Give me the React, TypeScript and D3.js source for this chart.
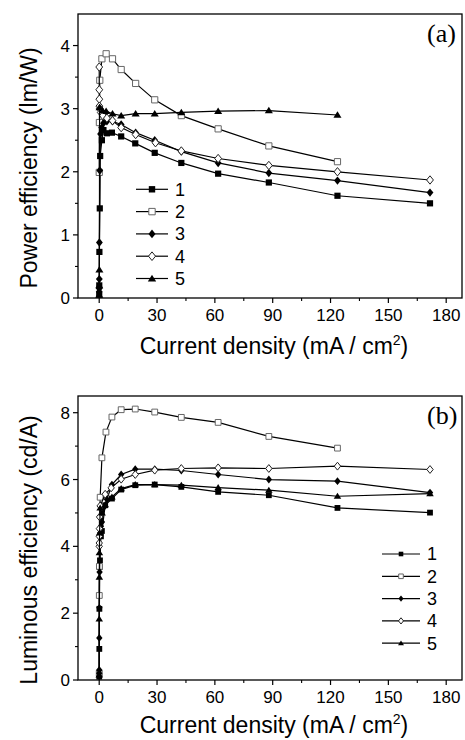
import * as d3 from 'd3';

// current density (mA/cm2) and efficiencies
const jA1 = [0.01, 0.03, 0.1, 0.3, 0.5, 1.4, 2.2, 4.0, 6.6, 11.4, 18.7, 28.8, 42.6, 61.7, 88, 123.6, 171.6];
const peA1 = [0.05, 0.2, 0.73, 1.42, 2.25, 2.5, 2.66, 2.61, 2.62, 2.56, 2.45, 2.3, 2.14, 1.97, 1.83, 1.62, 1.5];
const jA2 = [0.02, 0.1, 0.3, 1.4, 3.6, 6.9, 11.4, 18.9, 28.8, 42.6, 61.7, 88, 123.6];
const peA2 = [1.99, 2.78, 3.45, 3.79, 3.87, 3.79, 3.62, 3.4, 3.14, 2.89, 2.68, 2.41, 2.16];
const jA3 = [0.01, 0.03, 0.06, 0.1, 0.3, 0.7, 1.3, 2.2, 4.0, 6.9, 11.4, 18.9, 28.8, 42.6, 61.7, 88, 123.6, 171.6];
const peA3 = [0.1, 0.15, 0.3, 0.88, 2.02, 2.6, 2.7, 2.77, 2.8, 2.8, 2.75, 2.62, 2.5, 2.32, 2.14, 1.98, 1.86, 1.67];
const jA4 = [0.01, 0.03, 0.06, 0.1, 0.3, 0.8, 1.9, 4.0, 6.9, 11.4, 18.9, 29.2, 42.6, 61.7, 88, 123.6, 171.6];
const peA4 = [3.66, 3.3, 3.15, 3.04, 3.0, 2.94, 2.89, 2.85, 2.81, 2.7, 2.59, 2.46, 2.33, 2.21, 2.1, 2.0, 1.87];
const jA5 = [0.01, 0.03, 0.1, 0.2, 1.7, 3.6, 6.9, 11.4, 18.9, 28.8, 42.6, 61.7, 88, 123.6];
const peA5 = [0.05, 0.2, 0.45, 3.02, 2.97, 2.96, 2.92, 2.89, 2.92, 2.92, 2.94, 2.96, 2.97, 2.9];

const jB1 = [0.01, 0.03, 0.06, 0.1, 0.2, 0.4, 0.9, 1.4, 3.1, 6.6, 11.4, 18.7, 28.8, 42.6, 61.7, 88, 123.6, 171.6];
const leB1 = [0.1, 0.2, 0.93, 2.13, 3.38, 3.58, 4.3, 4.46, 5.23, 5.43, 5.7, 5.83, 5.85, 5.78, 5.63, 5.53, 5.15, 5.01];
const jB2 = [0.01, 0.05, 0.1, 0.5, 1.4, 3.5, 6.6, 11.4, 18.7, 28.8, 42.6, 61.7, 88, 123.6];
const leB2 = [0.2, 2.53, 3.4, 5.47, 6.65, 7.42, 7.87, 8.09, 8.11, 8.02, 7.86, 7.71, 7.29, 6.94];
const jB3 = [0.01, 0.02, 0.04, 0.06, 0.1, 0.2, 0.5, 0.9, 1.4, 2.6, 4.0, 6.6, 11.4, 18.7, 28.8, 42.6, 61.7, 88, 123.6, 171.6];
const leB3 = [0.1, 0.2, 0.3, 1.26, 2.16, 3.23, 4.4, 4.6, 4.73, 5.18, 5.41, 5.85, 6.15, 6.31, 6.31, 6.27, 6.15, 6.0, 5.95, 5.61];
const jB4 = [0.01, 0.02, 0.05, 0.1, 0.2, 0.5, 3.1, 6.2, 11.4, 18.7, 28.8, 42.6, 61.7, 88, 123.6, 171.6];
const leB4 = [4.0, 4.1, 4.3, 4.53, 4.88, 5.21, 5.56, 5.75, 6.01, 6.15, 6.28, 6.33, 6.35, 6.33, 6.4, 6.3];
const jB5 = [0.01, 0.03, 0.06, 0.1, 0.2, 0.5, 1.5, 3.1, 6.6, 11.4, 18.7, 28.8, 42.6, 61.7, 88, 123.6, 171.6];
const leB5 = [0.15, 1.83, 3.08, 3.81, 4.4, 5.15, 5.0, 5.25, 5.48, 5.73, 5.85, 5.85, 5.83, 5.76, 5.68, 5.5, 5.58];

const seriesNames = ['1', '2', '3', '4', '5'];
const markerKinds = ['square', 'squareOpen', 'diamond', 'diamondOpen', 'triangle'];

const xTicks = [0, 30, 60, 90, 120, 150, 180];
const xMinor = [15, 45, 75, 105, 135, 165];
const peTicks = [0, 1, 2, 3, 4];
const peMinor = [0.5, 1.5, 2.5, 3.5];
const leTicks = [0, 2, 4, 6, 8];
const leMinor = [1, 3, 5, 7];

const FONT = 'Liberation Sans, Arial, sans-serif';
const W = 465;
const H = 740;
const LEFT = 78;
const RIGHT = 462;

const x = d3.scaleLinear().domain([-11, 188.2]).range([LEFT, RIGHT]);

const markerPath = (kind: string, s: number) => {
    if (kind.startsWith('square')) return `M${-s},${-s}h${2 * s}v${2 * s}h${-2 * s}Z`;
    if (kind.startsWith('diamond')) {
        const w = s * 1.1;
        const h = s * 1.35;
        return `M0,${-h}L${w},0L0,${h}L${-w},0Z`;
    }
    const w = s * 1.3;
    return `M0,${-s * 1.2}L${w},${s * 0.9}L${-w},${s * 0.9}Z`;
};

const markerStyle = (kind: string) => {
    if (kind === 'squareOpen') return { fill: '#fff', stroke: '#666', strokeWidth: 1 };
    if (kind === 'diamondOpen') return { fill: '#fff', stroke: '#222', strokeWidth: 1 };
    return { fill: '#000', stroke: 'none', strokeWidth: 0 };
};

const Marker = ({ kind, cx, cy, s }: { kind: string; cx: number; cy: number; s: number }) => {
    const st = markerStyle(kind);
    return (
        <path
            d={markerPath(kind, s)}
            transform={`translate(${cx},${cy})`}
            fill={st.fill}
            stroke={st.stroke}
            strokeWidth={st.strokeWidth}
        />
    );
};

type PanelProps = {
    top: number;
    bottom: number;
    yMax: number;
    yTicks: number[];
    yMinor: number[];
    xs: number[][];
    ys: number[][];
    yTitle: string;
    label: string;
    titleGap: number;
    legendX: number;
    legendY: number;
    legendLine: number;
    legendSize: number;
    markSize: number;
};

const Panel = (p: PanelProps) => {
    const y = d3.scaleLinear().domain([0, p.yMax]).range([p.bottom, p.top]);
    const line = d3
        .line<[number, number]>()
        .x((d) => x(d[0]))
        .y((d) => y(d[1]));
    const midY = (p.top + p.bottom) / 2;

    return (
        <g>
            {/* frame */}
            <rect x={LEFT} y={p.top} width={RIGHT - LEFT} height={p.bottom - p.top} fill="none" stroke="#000" strokeWidth={1.3} />

            {/* x ticks */}
            {xTicks.map((t) => (
                <g key={'xt' + t}>
                    <line x1={x(t)} x2={x(t)} y1={p.bottom} y2={p.bottom + 5} stroke="#000" strokeWidth={1.2} />
                    <text x={x(t)} y={p.bottom + 23} textAnchor="middle" fontFamily={FONT} fontSize={17}>
                        {t}
                    </text>
                </g>
            ))}
            {xMinor.map((t) => (
                <line key={'xm' + t} x1={x(t)} x2={x(t)} y1={p.bottom} y2={p.bottom + 3} stroke="#000" strokeWidth={1.1} />
            ))}

            {/* y ticks */}
            {p.yTicks.map((t) => (
                <g key={'yt' + t}>
                    <line x1={LEFT - 5} x2={LEFT} y1={y(t)} y2={y(t)} stroke="#000" strokeWidth={1.2} />
                    <text x={70} y={y(t)} dy="0.36em" textAnchor="end" fontFamily={FONT} fontSize={17}>
                        {t}
                    </text>
                </g>
            ))}
            {p.yMinor.map((t) => (
                <line key={'ym' + t} x1={LEFT - 3} x2={LEFT} y1={y(t)} y2={y(t)} stroke="#000" strokeWidth={1.1} />
            ))}

            {/* titles */}
            <text x={274} y={p.bottom + p.titleGap} textAnchor="middle" fontFamily={FONT} fontSize={23}>
                Current density (mA / cm<tspan dy={-9} fontSize={14}>2</tspan>
                <tspan dy={9}>)</tspan>
            </text>
            <text
                transform={`translate(37,${midY + 12}) rotate(-90)`}
                textAnchor="middle"
                fontFamily={FONT}
                fontSize={23}
            >
                {p.yTitle}
            </text>
            <text x={427} y={p.top + 28} fontFamily="Liberation Serif, Times New Roman, serif" fontSize={26}>
                {p.label}
            </text>

            {/* series */}
            {p.xs.map((xv, i) => {
                const pts = xv.map((v, k) => [v, p.ys[i][k]] as [number, number]);
                return (
                    <g key={'s' + i}>
                        <path d={line(pts) ?? ''} fill="none" stroke="#000" strokeWidth={1.2} />
                        {pts.map((d, k) => (
                            <Marker key={k} kind={markerKinds[i]} cx={x(d[0])} cy={y(d[1])} s={p.markSize} />
                        ))}
                    </g>
                );
            })}

            {/* legend */}
            {seriesNames.map((n, i) => {
                const ly = p.legendY + i * 22.3;
                return (
                    <g key={'lg' + n}>
                        <line x1={p.legendX} x2={p.legendX + p.legendLine} y1={ly} y2={ly} stroke="#000" strokeWidth={1.2} />
                        <Marker kind={markerKinds[i]} cx={p.legendX + p.legendLine / 2} cy={ly} s={p.legendSize} />
                        <text x={p.legendX + p.legendLine + 7} y={ly} dy="0.36em" fontFamily={FONT} fontSize={18}>
                            {n}
                        </text>
                    </g>
                );
            })}
        </g>
    );
};

export default function App() {
    return (
        <svg width={W} height={H} style={{ position: 'absolute', left: 0, top: 0, background: '#fff' }}>
            <Panel
                top={14}
                bottom={298}
                yMax={4.5}
                yTicks={peTicks}
                yMinor={peMinor}
                xs={[jA1, jA2, jA3, jA4, jA5]}
                ys={[peA1, peA2, peA3, peA4, peA5]}
                yTitle="Power efficiency (lm/W)"
                label="(a)"
                titleGap={56}
                legendX={136}
                legendY={189.3}
                legendLine={32}
                legendSize={3.2}
                markSize={3.1}
            />
            <Panel
                top={396}
                bottom={680}
                yMax={8.5}
                yTicks={leTicks}
                yMinor={leMinor}
                xs={[jB1, jB2, jB3, jB4, jB5]}
                ys={[leB1, leB2, leB3, leB4, leB5]}
                yTitle="Luminous efficiency (cd/A)"
                label="(b)"
                titleGap={53}
                legendX={382}
                legendY={554}
                legendLine={38}
                legendSize={2.3}
                markSize={2.9}
            />
        </svg>
    );
}
